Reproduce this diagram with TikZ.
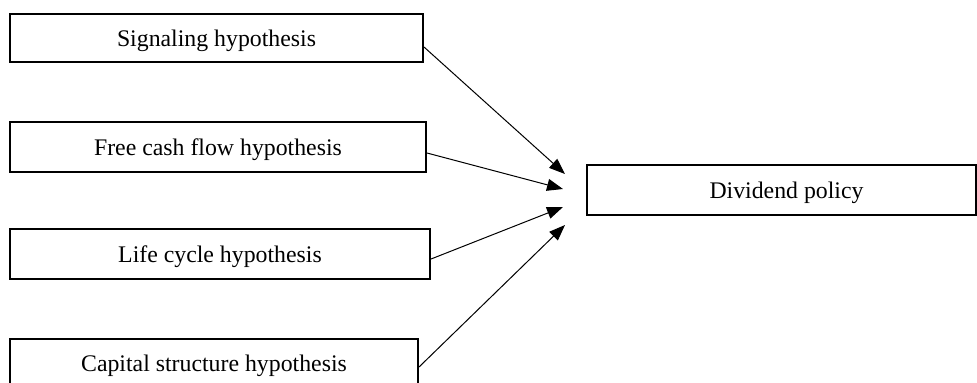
\documentclass[tikz,border=0pt]{standalone}
\usepackage{fontspec}
\setmainfont{Liberation Serif}
\usetikzlibrary{arrows.meta,calc}
\begin{document}
\begin{tikzpicture}[x=0.5pt,y=-0.5pt,
  hbox/.style={draw,line width=1pt,inner sep=0pt,text height=9pt,text depth=1pt,font=\fontsize{11.9}{14}\selectfont},
  conn/.style={line width=0.5pt,-{Triangle[length=8pt,width=6pt]}}]
\useasboundingbox (0,0) rectangle (977,382);
\node[hbox,minimum width=206.5pt,minimum height=24pt] (s1) at (216.5,38) {Signaling hypothesis};
\node[hbox,minimum width=208pt,minimum height=25pt] (s2) at (218,147) {Free cash flow hypothesis};
\node[hbox,minimum width=210pt,minimum height=25pt] (s3) at (220,254) {Life cycle hypothesis};
\node[hbox,minimum width=204pt,minimum height=24.5pt] (s4) at (214,363.5) {Capital structure hypothesis};
\node[hbox,minimum width=194.5pt,minimum height=25pt] (d) at (781.5,190) {\hspace*{5pt}Dividend policy};
\coordinate (t1) at (565,174);
\coordinate (t2) at (563,189);
\coordinate (t3) at (563,207);
\coordinate (t4) at (565,225);
\draw[conn] ($(s1.east)+(0,9)$) -- (t1);
\draw[conn] ($(s2.east)+(0,6)$) -- (t2);
\draw[conn] ($(s3.east)+(0,5)$) -- (t3);
\draw[conn] ($(s4.east)+(0,3.5)$) -- (t4);
\end{tikzpicture}
\end{document}
